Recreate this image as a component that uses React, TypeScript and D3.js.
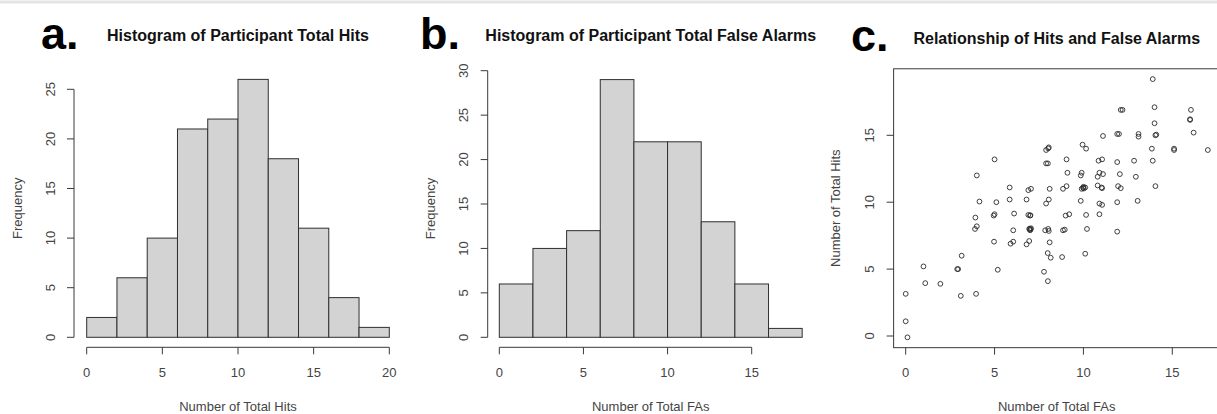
import React from "react";
import * as d3 from "d3";

// Histogram a: total hits
const hitsBinStarts = [0, 2, 4, 6, 8, 10, 12, 14, 16, 18];
const hitsCounts = [2, 6, 10, 21, 22, 26, 18, 11, 4, 1];
const hitsXTicks = [0, 5, 10, 15, 20];
const hitsYTicks = [0, 5, 10, 15, 20, 25];

// Histogram b: total false alarms
const faBinStarts = [0, 2, 4, 6, 8, 10, 12, 14, 16];
const faCounts = [6, 10, 12, 29, 22, 22, 13, 6, 1];
const faXTicks = [0, 5, 10, 15];
const faYTicks = [0, 5, 10, 15, 20, 25, 30];
const binWidth = 2;

// Scatter c: (jittered) FAs vs hits
const scatterFA = [
  13.9, 12.1, 12.2, 14.0, 16.05, 16.0, 16.0, 16.2, 14.0, 11.9, 12.0, 11.1, 13.1, 13.1, 14.1, 14.05, 13.85, 15.1, 15.1, 17.0,
  7.9, 8.05, 7.9, 8.0, 9.95, 10.15, 5.0, 9.05, 10.85, 11.05, 11.9, 12.85, 13.9, 4.0, 9.1, 9.9, 9.85, 10.8, 10.9, 11.1,
  12.05, 12.95, 5.85, 6.9, 7.05, 8.1, 8.85, 9.05, 9.9, 10.0, 10.1, 10.8, 11.05, 11.95, 12.1, 14.05, 4.15, 5.1, 5.85, 6.8,
  7.9, 8.05, 9.85, 10.9, 11.05, 11.9, 13.05, 3.92, 4.0, 3.9, 4.95, 5.0, 6.1, 6.9, 7.0, 9.0, 9.2, 10.15, 10.9, 6.05,
  6.95, 7.05, 7.0, 7.85, 8.05, 8.85, 8.95, 10.2, 11.9, 4.97, 5.9, 6.05, 6.8, 6.95, 8.1, 7.99, 8.16, 8.8, 10.1, 3.15,
  2.9, 2.95, 5.18, 1.0, 1.1, 1.95, 3.1, 3.96, 7.78, 8.0, 0.0, 0.0, 0.1, 7.02, 6.98, 7.03, 8.02, 8.02, 10.02, 9.98, 11.02,
];
const scatterHits = [
  19.2, 16.9, 16.9, 17.1, 16.9, 16.2, 16.15, 15.2, 15.9, 15.1, 15.1, 14.95, 15.1, 14.9, 15.05, 15.0, 14.0, 14.0, 13.9, 13.9,
  13.9, 14.1, 12.9, 12.9, 14.3, 14.0, 13.2, 13.2, 13.1, 13.2, 13.0, 13.1, 13.1, 12.0, 12.2, 12.2, 12.0, 11.9, 12.2, 12.1,
  12.1, 11.9, 11.1, 10.9, 11.0, 11.0, 11.0, 11.2, 11.0, 11.15, 11.1, 11.25, 11.05, 11.2, 11.05, 11.2, 10.05, 10.0, 10.2, 10.2,
  9.9, 10.2, 10.1, 9.9, 9.8, 10.0, 10.1, 8.85, 8.2, 8.0, 9.0, 9.1, 9.15, 9.05, 9.0, 9.0, 9.1, 9.05, 9.1, 7.9,
  8.0, 8.05, 7.9, 7.9, 7.85, 7.9, 7.95, 8.0, 7.8, 7.05, 6.9, 7.05, 6.85, 7.1, 7.0, 6.2, 5.85, 5.9, 6.15, 6.0,
  5.0, 5.0, 4.95, 5.2, 3.95, 3.9, 3.0, 3.15, 4.8, 4.1, 3.15, 1.1, -0.1, 9.02, 8.02, 7.97, 8.0, 14.02, 11.02, 11.08, 11.1,
];
const scatterXTicks = [0, 5, 10, 15];
const scatterYTicks = [0, 5, 10, 15];

const FONT = "'Liberation Sans', Arial, Helvetica, sans-serif";
const AXIS = "#3a3a3a";
const TEXT = "#444";

type HistProps = {
  binStarts: number[];
  counts: number[];
  xTicks: number[];
  yTicks: number[];
  xRange: [number, number];
  yRange: [number, number];
  xTickVals: [number, number];
  yTickVals: [number, number];
  xLabel: string;
  title: string;
  letter: string;
  letterX: number;
  yAxisX: number;
  yTickLabelX: number;
  yTitleX: number;
};

function Histogram(p: HistProps) {
  const x = d3.scaleLinear().domain(p.xTickVals).range(p.xRange);
  const y = d3.scaleLinear().domain(p.yTickVals).range(p.yRange);
  const axisY = 347.3;
  const xMin = p.xTicks[0];
  const xMax = p.xTicks[p.xTicks.length - 1];
  const yMin = p.yTicks[0];
  const yMax = p.yTicks[p.yTicks.length - 1];
  const dataX0 = p.binStarts[0];
  const dataX1 = p.binStarts[p.binStarts.length - 1] + binWidth;
  const plotCx = x((dataX0 + dataX1) / 2);
  const plotCy = y((d3.max(p.counts) as number) / 2);
  return (
    <g>
      <text x={p.letterX} y={49} fontFamily={FONT} fontWeight="bold" fontSize={45} fill="#000">
        {p.letter}
      </text>
      <text x={plotCx} y={41} textAnchor="middle" fontFamily={FONT} fontWeight="bold" fontSize={16} fill="#111">
        {p.title}
      </text>
      {p.binStarts.map((b, i) => (
        <rect
          key={i}
          x={x(b)}
          y={y(p.counts[i])}
          width={x(b + binWidth) - x(b)}
          height={y(0) - y(p.counts[i])}
          fill="#d3d3d3"
          stroke="#2f2f2f"
          strokeWidth={1}
        />
      ))}
      {/* x axis */}
      <line x1={x(xMin)} x2={x(xMax)} y1={axisY} y2={axisY} stroke={AXIS} strokeWidth={1} />
      {p.xTicks.map((t) => (
        <g key={t}>
          <line x1={x(t)} x2={x(t)} y1={axisY} y2={axisY + 7} stroke={AXIS} strokeWidth={1} />
          <text x={x(t)} y={377} textAnchor="middle" fontFamily={FONT} fontSize={13} fill={TEXT}>
            {t}
          </text>
        </g>
      ))}
      <text x={plotCx} y={411} textAnchor="middle" fontFamily={FONT} fontSize={13} fill={TEXT}>
        {p.xLabel}
      </text>
      {/* y axis */}
      <line x1={p.yAxisX} x2={p.yAxisX} y1={y(yMin)} y2={y(yMax)} stroke={AXIS} strokeWidth={1} />
      {p.yTicks.map((t) => (
        <g key={t}>
          <line x1={p.yAxisX - 7} x2={p.yAxisX} y1={y(t)} y2={y(t)} stroke={AXIS} strokeWidth={1} />
          <text
            transform={`translate(${p.yTickLabelX},${y(t)}) rotate(-90)`}
            textAnchor="middle"
            dy="0.35em"
            fontFamily={FONT}
            fontSize={13}
            fill={TEXT}
          >
            {t}
          </text>
        </g>
      ))}
      <text
        transform={`translate(${p.yTitleX},${plotCy}) rotate(-90)`}
        textAnchor="middle"
        dy="0.35em"
        fontFamily={FONT}
        fontSize={13}
        fill={TEXT}
      >
        Frequency
      </text>
    </g>
  );
}

function Scatter() {
  const x = d3.scaleLinear().domain([0, 15]).range([905.7, 1172.3]);
  const y = d3.scaleLinear().domain([0, 15]).range([336, 135.3]);
  const [fx0, fx1] = d3.extent(scatterFA) as [number, number];
  const [hy0, hy1] = d3.extent(scatterHits) as [number, number];
  const padX = (fx1 - fx0) * 0.04;
  const padY = (hy1 - hy0) * 0.04;
  const left = x(fx0 - padX);
  const right = x(fx1 + padX);
  const top = y(hy1 + padY);
  const bottom = y(hy0 - padY);
  const cx = (left + right) / 2;
  return (
    <g>
      <text x={851} y={51} fontFamily={FONT} fontWeight="bold" fontSize={45} fill="#000">
        c.
      </text>
      <text x={cx} y={44} textAnchor="middle" fontFamily={FONT} fontWeight="bold" fontSize={16} fill="#111">
        Relationship of Hits and False Alarms
      </text>
      <rect x={left} y={top} width={right - left} height={bottom - top} fill="none" stroke={AXIS} strokeWidth={1} />
      {scatterFA.map((f, i) => (
        <circle key={i} cx={x(f)} cy={y(scatterHits[i])} r={2.4} fill="none" stroke="#2a2a2a" strokeWidth={0.9} />
      ))}
      {scatterXTicks.map((t) => (
        <g key={t}>
          <line x1={x(t)} x2={x(t)} y1={bottom} y2={bottom + 7} stroke={AXIS} strokeWidth={1} />
          <text x={x(t)} y={377} textAnchor="middle" fontFamily={FONT} fontSize={13} fill={TEXT}>
            {t}
          </text>
        </g>
      ))}
      <text x={cx} y={411} textAnchor="middle" fontFamily={FONT} fontSize={13} fill={TEXT}>
        Number of Total FAs
      </text>
      {scatterYTicks.map((t) => (
        <g key={t}>
          <line x1={left - 7} x2={left} y1={y(t)} y2={y(t)} stroke={AXIS} strokeWidth={1} />
          <text
            transform={`translate(869.3,${y(t)}) rotate(-90)`}
            textAnchor="middle"
            dy="0.35em"
            fontFamily={FONT}
            fontSize={13}
            fill={TEXT}
          >
            {t}
          </text>
        </g>
      ))}
      <text
        transform={`translate(835,${(top + bottom) / 2}) rotate(-90)`}
        textAnchor="middle"
        dy="0.35em"
        fontFamily={FONT}
        fontSize={13}
        fill={TEXT}
      >
        Number of Total Hits
      </text>
    </g>
  );
}

export default function App() {
  return (
    <svg
      width={1217}
      height={414}
      viewBox="0 0 1217 414"
      style={{ position: "absolute", left: 0, top: 0, background: "#fff", display: "block" }}
    >
      <rect x={0} y={0} width={1217} height={414} fill="#fff" />
      <line x1={0} x2={1217} y1={2} y2={2} stroke="#e4e4e4" strokeWidth={3} />
      <Histogram
        binStarts={hitsBinStarts}
        counts={hitsCounts}
        xTicks={hitsXTicks}
        yTicks={hitsYTicks}
        xRange={[86.7, 389.3]}
        yRange={[337.3, 89.3]}
        xTickVals={[0, 20]}
        yTickVals={[0, 25]}
        xLabel="Number of Total Hits"
        title="Histogram of Participant Total Hits"
        letter="a."
        letterX={41}
        yAxisX={74}
        yTickLabelX={50}
        yTitleX={17}
      />
      <Histogram
        binStarts={faBinStarts}
        counts={faCounts}
        xTicks={faXTicks}
        yTicks={faYTicks}
        xRange={[499.3, 751.7]}
        yRange={[337.3, 70.7]}
        xTickVals={[0, 15]}
        yTickVals={[0, 30]}
        xLabel="Number of Total FAs"
        title="Histogram of Participant Total False Alarms"
        letter="b."
        letterX={420}
        yAxisX={487.7}
        yTickLabelX={463.3}
        yTitleX={430}
      />
      <Scatter />
    </svg>
  );
}
